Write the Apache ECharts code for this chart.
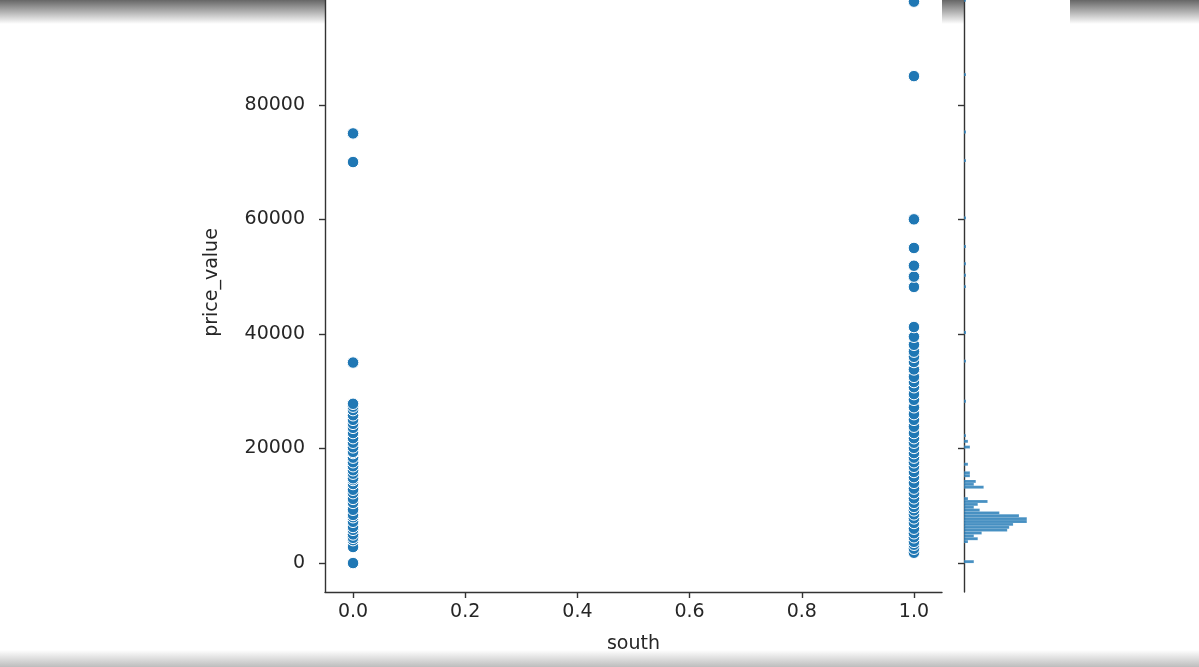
<!DOCTYPE html>
<html>
<head>
<meta charset="utf-8">
<script src="https://cdn.jsdelivr.net/npm/echarts@6/dist/echarts.min.js"></script>
<style>
html, body { margin: 0; padding: 0; background: #fff; overflow: hidden; }
#shadowTop { position: absolute; left: 0; top: 0; width: 1199px; height: 24px; background: linear-gradient(#666, rgba(255,255,255,0)); }
#shadowBottom { position: absolute; left: 0; top: 650px; width: 1199px; height: 17px; background: linear-gradient(rgba(255,255,255,0), #bdbdbd); }
#main { position: absolute; left: 0; top: -40px; width: 1199px; height: 707px; }
</style>
</head>
<body>
<div id="shadowTop"></div>
<div id="shadowBottom"></div>
<div id="main"></div>
<script>
// price_value 读图估计
var south0Values = [0, 2800, 4000, 4400, 5000, 5800, 6300, 7200, 8000, 8400, 9300, 10500, 11200, 12200, 12800,
    13800, 14500, 14800, 15600, 16200, 16900, 17600, 18400, 19200, 19400, 20200, 21000, 21800, 22700,
    23600, 24300, 25000, 25800, 26700, 27300, 27800, 35000, 70000, 75000];
var south1Values = [1800, 2500, 3200, 3700, 4500, 5200, 6000, 7000, 7800, 8500, 9200, 9800, 10500, 11300,
    12200, 13000, 14000, 15000, 15900, 16800, 17600, 18400, 19200, 20100, 21000, 21800, 22700, 23800,
    25000, 26000, 27200, 28500, 29500, 30700, 31600, 32500, 33800, 35100, 36000, 36900, 38100, 39500,
    41200, 48200, 50000, 51900, 55000, 60000, 85000, 98000];

// 右侧边缘直方图 (bin 起点, 数量)
var histStarts = [0, 3500, 4000, 4500, 5000, 5500, 6000, 6500, 7000, 7500, 8000, 8500, 9000, 9500, 10000,
    10500, 11000, 13000, 13500, 14000, 15000, 15500, 17000, 20000, 21000, 22000, 28000, 35000, 40000,
    48000, 50000, 52000, 55000, 60000, 70000, 75000, 85000, 98000];
var histCounts = [5, 2, 7, 5, 9, 22, 23, 25, 32, 32, 28, 18, 8, 5, 7,
    12, 2, 10, 5, 6, 3, 3, 2, 3, 2, 1, 1, 1, 1,
    1, 1, 1, 1, 1, 1, 1, 1, 1];
var histBinWidth = 500;

var xTicks = [0, 0.2, 0.4, 0.6, 0.8, 1.0];
var yTicks = [0, 20000, 40000, 60000, 80000, 100000];

var textColor = '#262626';
var lineColor = '#333';
var fontFamily = 'DejaVu Sans';
var fontSize = 19;

var scatterData = [];
for (var i = 0; i < south0Values.length; i++) scatterData.push([0, south0Values[i]]);
for (var j = 0; j < south1Values.length; j++) scatterData.push([1, south1Values[j]]);

var histData = [];
for (var k = 0; k < histStarts.length; k++) histData.push([histStarts[k], histCounts[k]]);

var chart = echarts.init(document.getElementById('main'));

var option = {
    animation: false,
    grid: [
        { left: 325, width: 617, top: 13, bottom: 75, show: true, backgroundColor: '#fff', borderWidth: 0 },
        { left: 964, width: 106, top: 13, bottom: 75, show: true, backgroundColor: '#fff', borderWidth: 0 }
    ],
    xAxis: [{
        type: 'value',
        gridIndex: 0,
        min: -0.05,
        max: 1.05,
        name: 'south',
        nameLocation: 'middle',
        nameGap: 43,
        nameTextStyle: { color: textColor, fontSize: fontSize, fontFamily: fontFamily },
        axisLine: { onZero: false, lineStyle: { color: lineColor, width: 1.4 } },
        axisTick: { customValues: xTicks, length: 6, lineStyle: { color: lineColor, width: 1.4 } },
        axisLabel: {
            customValues: xTicks, margin: 11, color: textColor, fontSize: fontSize, fontFamily: fontFamily,
            formatter: function (v) { return v.toFixed(1); }
        },
        splitLine: { show: false }
    }, {
        type: 'value',
        gridIndex: 1,
        min: 0,
        max: 54,
        show: false
    }],
    yAxis: [{
        type: 'value',
        gridIndex: 0,
        min: -5050,
        max: 103000,
        name: 'price_value',
        nameLocation: 'middle',
        nameGap: 100,
        nameTextStyle: { color: textColor, fontSize: fontSize, fontFamily: fontFamily },
        axisLine: { show: true, onZero: false, lineStyle: { color: lineColor, width: 1.4 } },
        axisTick: { show: true, customValues: yTicks, length: 6, lineStyle: { color: lineColor, width: 1.4 } },
        axisLabel: {
            customValues: yTicks, margin: 20, color: textColor, fontSize: fontSize, fontFamily: fontFamily,
            formatter: function (v) { return String(v); }
        },
        splitLine: { show: false }
    }, {
        type: 'value',
        gridIndex: 1,
        min: -5050,
        max: 103000,
        axisLine: { show: true, onZero: false, lineStyle: { color: lineColor, width: 1.4 } },
        axisTick: { show: true, customValues: yTicks, length: 6, lineStyle: { color: lineColor, width: 1.4 } },
        axisLabel: { show: false },
        splitLine: { show: false }
    }],
    series: [{
        type: 'scatter',
        xAxisIndex: 0,
        yAxisIndex: 0,
        data: scatterData,
        symbolSize: 11.5,
        clip: false,
        itemStyle: { color: '#1f77b4', borderColor: '#fff', borderWidth: 1, opacity: 1 }
    }, {
        type: 'custom',
        xAxisIndex: 1,
        yAxisIndex: 1,
        data: histData,
        encode: { x: 1, y: 0 },
        renderItem: function (params, api) {
            var start = api.value(0);
            var cnt = api.value(1);
            var p0 = api.coord([0, start]);
            var p1 = api.coord([cnt, start + histBinWidth]);
            return {
                type: 'rect',
                shape: { x: p0[0], y: p1[1], width: p1[0] - p0[0], height: p0[1] - p1[1] },
                style: { fill: 'rgba(31,119,180,0.82)', stroke: 'rgba(255,255,255,0.35)', lineWidth: 0.3 }
            };
        }
    }]
};

chart.setOption(option);
</script>
</body>
</html>
